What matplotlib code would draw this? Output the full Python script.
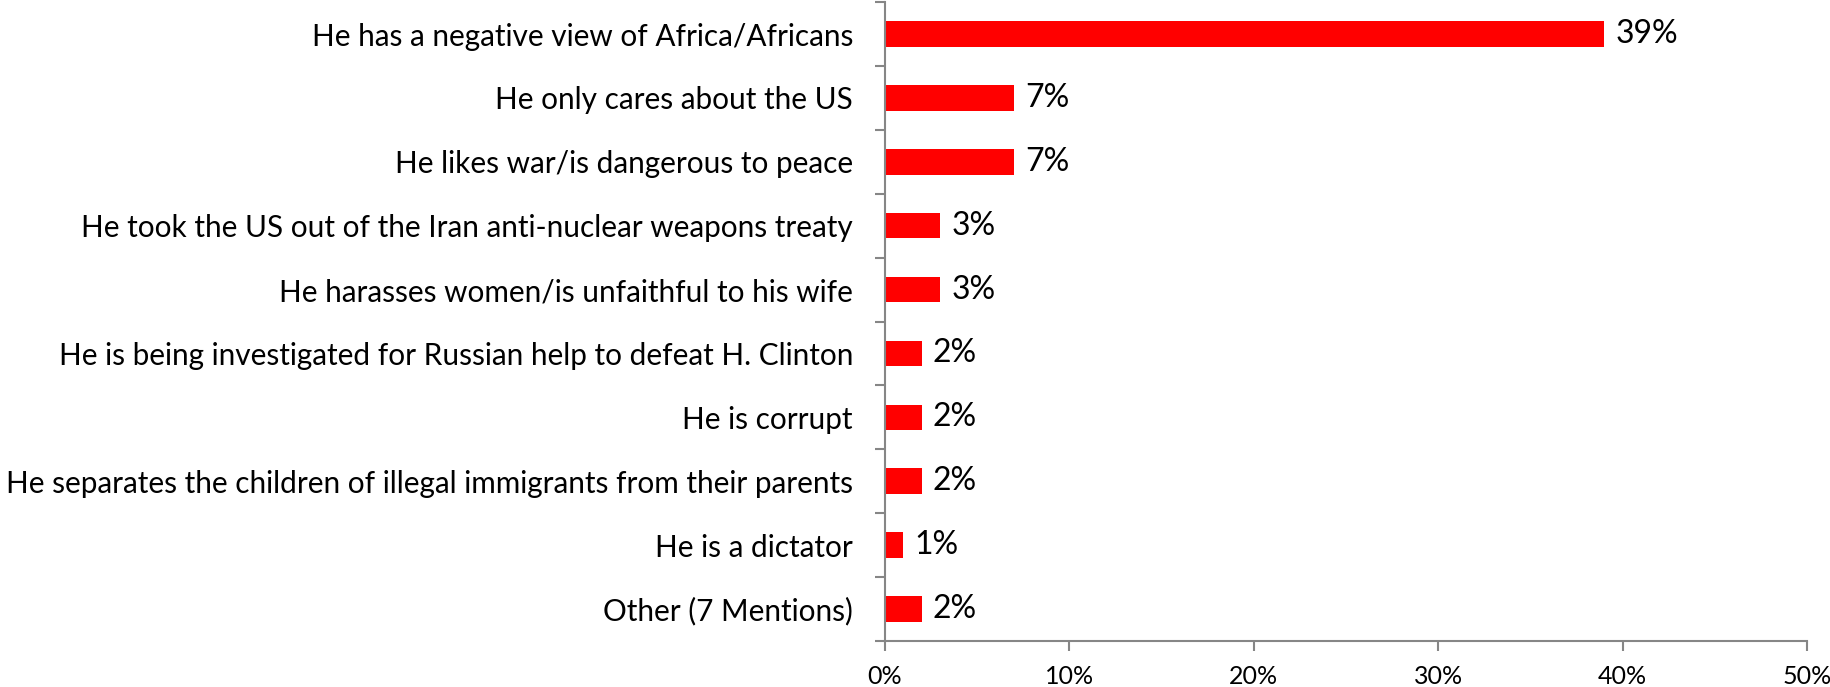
"""Reasons for negative view - horizontal bar chart"""

import matplotlib.pyplot as plt
from matplotlib.ticker import FixedLocator, PercentFormatter

reasons = [
    "He has a negative view of Africa/Africans",
    "He only cares about the US",
    "He likes war/is dangerous to peace",
    "He took the US out of the Iran anti-nuclear weapons treaty",
    "He harasses women/is unfaithful to his wife",
    "He is being investigated for Russian help to defeat H. Clinton",
    "He is corrupt",
    "He separates the children of illegal immigrants from their parents",
    "He is a dictator",
    "Other (7 Mentions)",
]
shares = [39, 7, 7, 3, 3, 2, 2, 2, 1, 2]
x_ticks = [0, 10, 20, 30, 40, 50]

plt.rcParams["font.family"] = ["Lato", "DejaVu Sans"]

fig = plt.figure(figsize=(18.31, 6.87), dpi=100)
ax = fig.add_axes([0.4833, 0.067, 0.987 - 0.4833, 0.997 - 0.067])

pos = list(range(len(reasons)))
ax.barh(pos, shares, height=0.4, color="#ff0000")
ax.set_ylim(len(reasons) - 0.5, -0.5)
ax.set_xlim(0, 50)

for p, v in zip(pos, shares):
    ax.annotate(f"{v}%", (v, p), xytext=(11, 0), textcoords="offset pixels",
                va="center", ha="left", fontsize=23)

ax.set_yticks(pos)
ax.set_yticklabels(reasons, fontsize=21.4)
ax.yaxis.set_minor_locator(FixedLocator([p - 0.5 for p in pos] + [len(pos) - 0.5]))
ax.tick_params(axis="y", which="major", length=0, pad=23)
ax.tick_params(axis="y", which="minor", length=7, width=1.5, color="#868686")

ax.set_xticks(x_ticks)
ax.xaxis.set_major_formatter(PercentFormatter(decimals=0))
ax.tick_params(axis="x", length=7, width=1.5, color="#868686", labelsize=18, pad=10)

for side in ["top", "right"]:
    ax.spines[side].set_visible(False)
for side in ["left", "bottom"]:
    ax.spines[side].set_color("#868686")
    ax.spines[side].set_linewidth(1.5)

fig.savefig("out.png", dpi=100)
